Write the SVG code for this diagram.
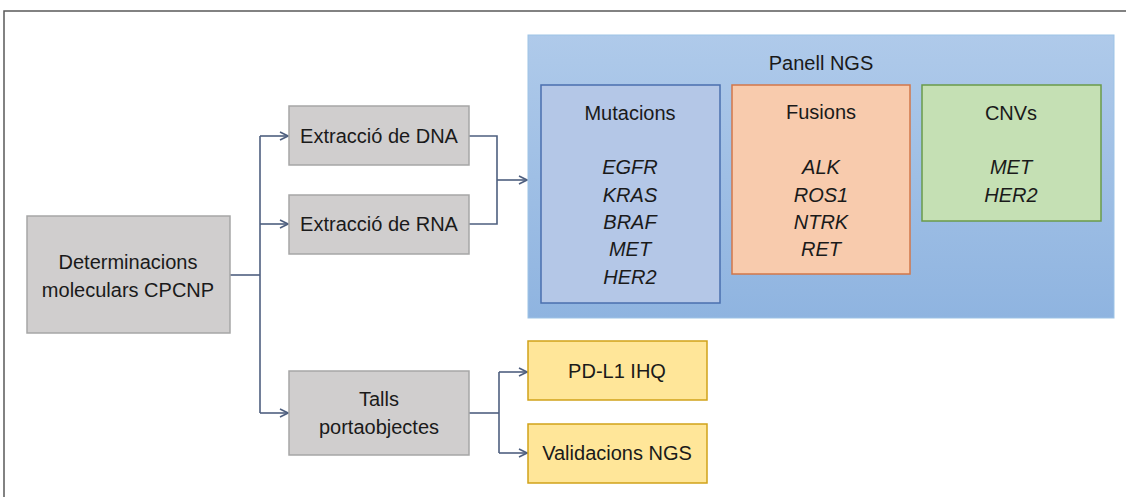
<svg xmlns="http://www.w3.org/2000/svg" width="1126" height="497" viewBox="0 0 1126 497">
  <style>
    text { font-family: "Liberation Sans", Arial, sans-serif; font-size: 20px; fill: #1a1a1a; text-anchor: middle; }
    .gene { font-style: italic; }
    .grey { fill: #d0cece; stroke: #a6a6a6; stroke-width: 1.5; }
    .yellow { fill: #ffe699; stroke: #d1a21a; stroke-width: 1.5; }
    .conn { fill: none; stroke: #4e5f7f; stroke-width: 1.6; }
  </style>
  <defs>
    <linearGradient id="panelFill" x1="0" y1="0" x2="0" y2="1">
      <stop offset="0" stop-color="#afcaea"/>
      <stop offset="1" stop-color="#8fb4e0"/>
    </linearGradient>
    <marker id="arrow" viewBox="0 0 10 10" refX="9" refY="5" markerWidth="10" markerHeight="10" markerUnits="userSpaceOnUse" orient="auto">
      <path d="M1,1 L9,5 L1,9" fill="none" stroke="#4e5f7f" stroke-width="1.6"/>
    </marker>
  </defs>

  <rect width="1126" height="497" fill="#ffffff"/>
  <!-- frame -->
  <path d="M4,497 V11 H1126" fill="none" stroke="#5a5a5a" stroke-width="1.5"/>

  <!-- connectors -->
  <g id="connectors">
    <path class="conn" d="M230,275 H260"/>
    <path class="conn" d="M260,136 V413"/>
    <path class="conn" d="M260,136 H288" marker-end="url(#arrow)"/>
    <path class="conn" d="M260,224 H288" marker-end="url(#arrow)"/>
    <path class="conn" d="M260,413 H288" marker-end="url(#arrow)"/>
    <path class="conn" d="M469,136 H497 V224 H469"/>
    <path class="conn" d="M497,180 H527" marker-end="url(#arrow)"/>
    <path class="conn" d="M469,413 H499"/>
    <path class="conn" d="M499,372 V453"/>
    <path class="conn" d="M499,372 H527" marker-end="url(#arrow)"/>
    <path class="conn" d="M499,453 H527" marker-end="url(#arrow)"/>
  </g>

  <g id="determinacions">
    <rect class="grey" x="27" y="216" width="203" height="117"/>
    <text x="128" y="269">Determinacions</text>
    <text x="128" y="297">moleculars CPCNP</text>
  </g>

  <g id="extraccio-dna">
    <rect class="grey" x="289" y="106" width="180" height="59"/>
    <text x="379" y="143">Extracció de DNA</text>
  </g>

  <g id="extraccio-rna">
    <rect class="grey" x="289" y="195" width="180" height="59"/>
    <text x="379" y="231">Extracció de RNA</text>
  </g>

  <g id="talls">
    <rect class="grey" x="289" y="371" width="180" height="84"/>
    <text x="379" y="406">Talls</text>
    <text x="379" y="434">portaobjectes</text>
  </g>

  <g id="panell-ngs">
    <rect x="528" y="35" width="586" height="283" fill="url(#panelFill)" stroke="#9dc3e6" stroke-width="1"/>
    <text x="821" y="70">Panell NGS</text>
  </g>

  <g id="mutacions">
    <rect x="541" y="85" width="179" height="218" fill="#b4c7e7" stroke="#4a6fae" stroke-width="1.5"/>
    <text x="630" y="120">Mutacions</text>
    <text class="gene" x="630" y="174">EGFR</text>
    <text class="gene" x="630" y="202">KRAS</text>
    <text class="gene" x="630" y="229">BRAF</text>
    <text class="gene" x="630" y="256">MET</text>
    <text class="gene" x="630" y="284">HER2</text>
  </g>

  <g id="fusions">
    <rect x="732" y="85" width="178" height="189" fill="#f8cbad" stroke="#d2774a" stroke-width="1.5"/>
    <text x="821" y="119">Fusions</text>
    <text class="gene" x="821" y="174">ALK</text>
    <text class="gene" x="821" y="202">ROS1</text>
    <text class="gene" x="821" y="229">NTRK</text>
    <text class="gene" x="821" y="256">RET</text>
  </g>

  <g id="cnvs">
    <rect x="922" y="85" width="179" height="136" fill="#c5e0b4" stroke="#6a9a4a" stroke-width="1.5"/>
    <text x="1011" y="120">CNVs</text>
    <text class="gene" x="1011" y="174">MET</text>
    <text class="gene" x="1011" y="202">HER2</text>
  </g>

  <g id="pd-l1">
    <rect class="yellow" x="528" y="341" width="179" height="59"/>
    <text x="617" y="378">PD-L1 IHQ</text>
  </g>

  <g id="validacions">
    <rect class="yellow" x="528" y="424" width="179" height="59"/>
    <text x="617" y="460">Validacions NGS</text>
  </g>
</svg>
